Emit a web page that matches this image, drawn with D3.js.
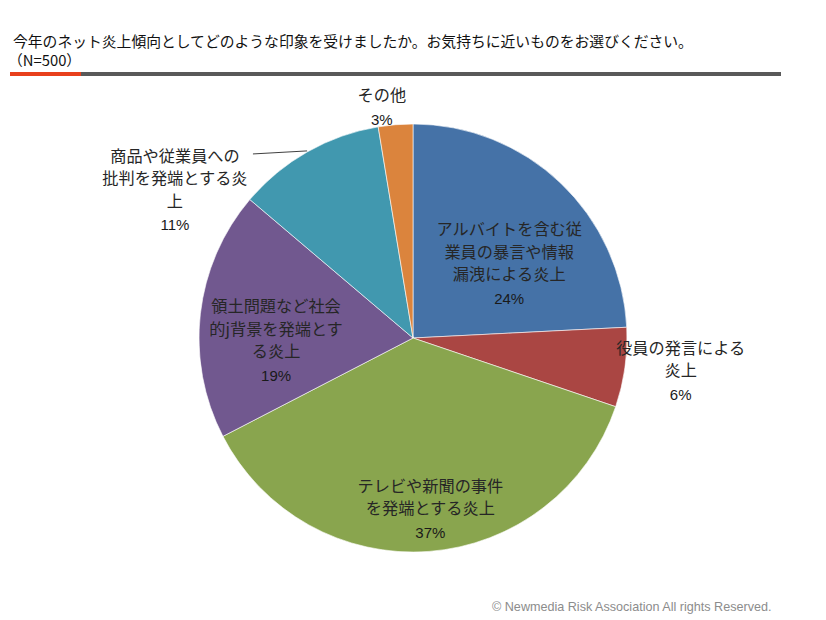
<!DOCTYPE html>
<html><head><meta charset="utf-8">
<script src="https://cdn.jsdelivr.net/npm/d3@7"></script>
<style>
html,body{margin:0;padding:0;background:#fff;}
svg{display:block;font-family:"Noto Sans CJK JP","Noto Sans",sans-serif;}
</style></head>
<body><svg id="c" width="826" height="620"></svg>
<script>
const titleLines = ["今年のネット炎上傾向としてどのような印象を受けましたか。お気持ちに近いものをお選びください。", "（N=500）"];
const categories = [
  "アルバイトを含む従\n業員の暴言や情報\n漏洩による炎上",
  "役員の発言による\n炎上",
  "テレビや新聞の事件\nを発端とする炎上",
  "領土問題など社会\n的j背景を発端とす\nる炎上",
  "商品や従業員への\n批判を発端とする炎\n上",
  "その他"
];
const values = [121, 30, 186, 94, 56, 13];
const colors = ["#4572A7", "#AA4643", "#89A54E", "#71588F", "#4198AF", "#DB843D"];
const footer = "© Newmedia Risk Association All  rights Reserved.";

// label placement relative to each slice (radius ratio, angle nudge in degrees)
const labelRadius = [0.57, 1.26, 0.80, 0.64, 1.31, 1.09];
const labelNudge = [8.5, -1, -1.5, -7.5, -28.6, -3];
const leader = [false, false, false, false, true, false];

const svg = d3.select("#c");

// title
svg.append("text").attr("x", 13).attr("y", 47).attr("font-size", 14.8).attr("fill", "#111").text(titleLines[0]);
svg.append("text").attr("x", 8).attr("y", 66).attr("font-size", 14.8).attr("fill", "#111").text(titleLines[1]);
// header rule
svg.append("rect").attr("x", 81).attr("y", 72).attr("width", 700).attr("height", 4).attr("fill", "#595959");
svg.append("rect").attr("x", 10).attr("y", 72).attr("width", 71).attr("height", 4).attr("fill", "#E8401C");

const cx = 413, cy = 338, R = 214;
const total = d3.sum(values);
const pie = d3.pie().sort(null).value(d => d)(values);
const arc = d3.arc().innerRadius(0).outerRadius(R);
const g = svg.append("g").attr("transform", `translate(${cx},${cy})`);

g.selectAll("path.slice").data(pie).join("path")
  .attr("class", "slice")
  .attr("d", arc)
  .attr("fill", (d, i) => colors[i])
  .attr("stroke", "#fff").attr("stroke-width", 0.6);

pie.forEach((d, i) => {
  const mid = (d.startAngle + d.endAngle) / 2;
  const a = mid + labelNudge[i] * Math.PI / 180;
  const r = R * labelRadius[i];
  const x = Math.sin(a) * r, y = -Math.cos(a) * r;
  const lines = categories[i].split("\n");
  const pct = Math.round(values[i] / total * 100) + "%";
  const lh = 22.5;
  const n = lines.length;
  const blockH = (n - 1) * lh + 25;
  const top = y - blockH / 2;
  const t = g.append("g");
  lines.forEach((ln, k) => {
    t.append("text").attr("x", x).attr("y", top + k * lh)
      .attr("text-anchor", "middle").attr("dominant-baseline", "central")
      .attr("font-size", 16.2).attr("fill", "#262626").text(ln);
  });
  t.append("text").attr("x", x).attr("y", top + (n - 1) * lh + 25)
    .attr("text-anchor", "middle").attr("dominant-baseline", "central")
    .attr("font-size", 15).attr("font-family", "'Liberation Sans','DejaVu Sans',sans-serif")
    .attr("fill", "#1a1a1a").text(pct);
  if (leader[i]) {
    const ex = Math.sin(mid) * (R + 1), ey = -Math.cos(mid) * (R + 1);
    g.append("line").attr("x1", ex).attr("y1", ey)
      .attr("x2", x + 78).attr("y2", top - 1)
      .attr("stroke", "#404040").attr("stroke-width", 1);
  }
});

svg.append("text").attr("x", 492).attr("y", 611).attr("font-size", 12.6)
  .attr("font-family", "'Liberation Sans',Arial,sans-serif").attr("fill", "#8c8c8c").text(footer);
</script></body></html>
